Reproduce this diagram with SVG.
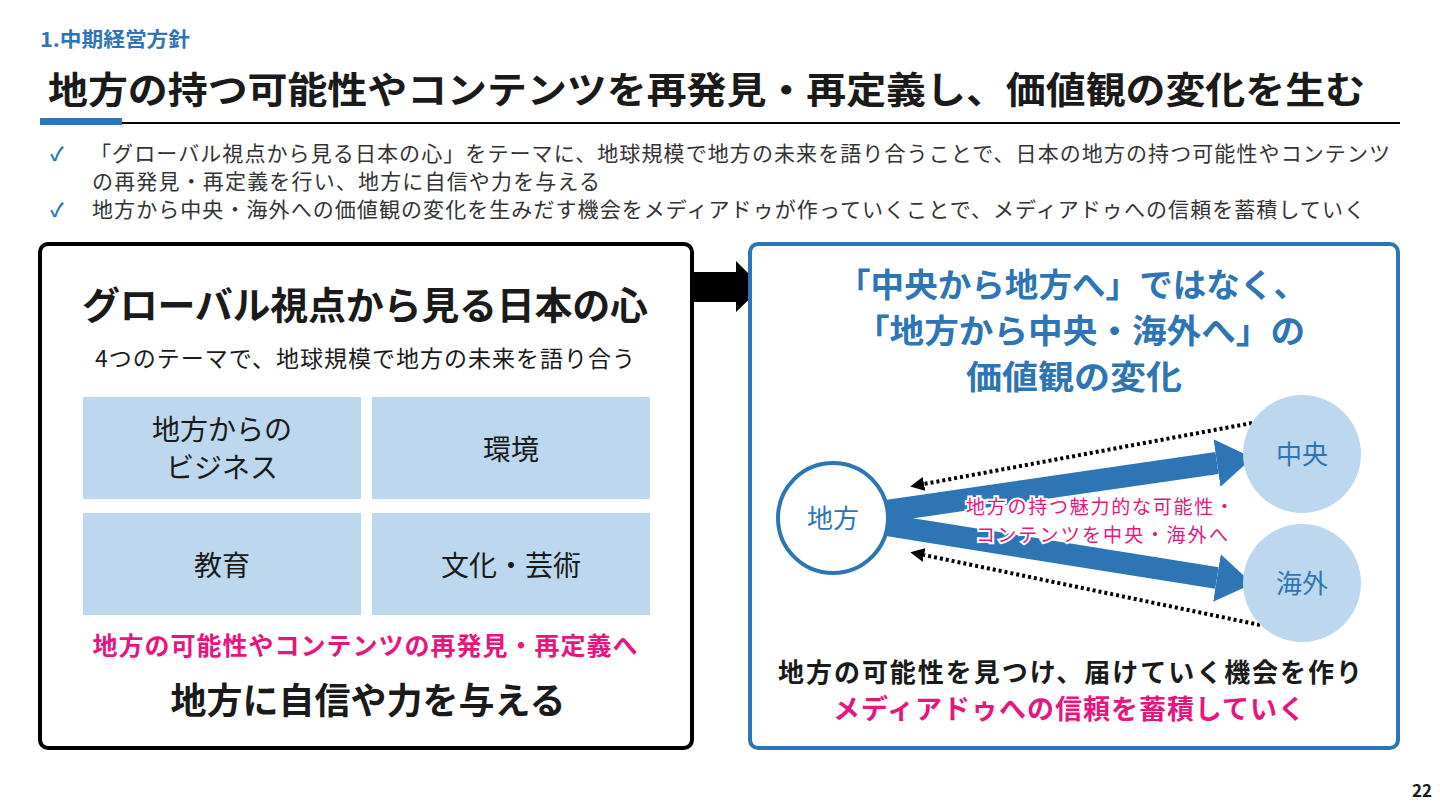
<svg xmlns="http://www.w3.org/2000/svg" width="1440" height="810" viewBox="0 0 1440 810">
<style>
text{font-family:"Noto Sans CJK JP","Noto Sans",sans-serif;}
.b{font-weight:700;}
.blue{fill:#2E75B6;}
.dark{fill:#1a1a1a;}
.pink{fill:#E8157F;}
.gray{fill:#333333;}
.cell{fill:#BDD7EE;}
.mid{text-anchor:middle;}
</style>
<defs>
<marker id="bighead" markerUnits="userSpaceOnUse" markerWidth="36" markerHeight="48" viewBox="0 0 36 48" refX="0" refY="24" orient="auto">
<path d="M0,0 L36,24 L0,48 z" fill="#2E75B6"/>
</marker>
<marker id="dothead" markerUnits="userSpaceOnUse" markerWidth="14" markerHeight="14" viewBox="0 0 14 14" refX="0" refY="7" orient="auto">
<path d="M0,0 L14,7 L0,14 z" fill="#000"/>
</marker>
</defs>
<rect width="1440" height="810" fill="#fff"/>

<g id="header">
<text x="40" y="47" class="b blue" font-size="20" textLength="150" lengthAdjust="spacingAndGlyphs">1.中期経営方針</text>
<text x="48" y="104" class="b dark" font-size="37" textLength="1317" lengthAdjust="spacingAndGlyphs">地方の持つ可能性やコンテンツを再発見・再定義し、価値観の変化を生む</text>
<rect x="40" y="118" width="82" height="7" fill="#2E75B6"/>
<rect x="122" y="122" width="1278" height="2" fill="#000"/>
</g>

<g id="bullets">
<text x="50" y="161" class="blue b" font-size="19">✓</text>
<text x="90" y="161" class="gray" font-size="21" textLength="1300">「グローバル視点から見る日本の心」をテーマに、地球規模で地方の未来を語り合うことで、日本の地方の持つ可能性やコンテンツ</text>
<text x="92" y="189" class="gray" font-size="21" textLength="508">の再発見・再定義を行い、地方に自信や力を与える</text>
<text x="50" y="217" class="blue b" font-size="19">✓</text>
<text x="92" y="217" class="gray" font-size="21" textLength="1273">地方から中央・海外への価値観の変化を生みだす機会をメディアドゥが作っていくことで、メディアドゥへの信頼を蓄積していく</text>
</g>

<g id="left-box">
<rect x="40" y="244" width="652" height="504" rx="8" fill="#fff" stroke="#000" stroke-width="4"/>
<text x="365" y="319" class="b dark mid" font-size="38" textLength="566">グローバル視点から見る日本の心</text>
<text x="365" y="367" class="dark mid" font-size="23" textLength="540">4つのテーマで、地球規模で地方の未来を語り合う</text>
</g>
<g id="cell-business">
<rect x="83" y="397" width="278" height="102" class="cell"/>
<text x="222" y="440" class="dark mid" font-size="28">地方からの</text>
<text x="222" y="478" class="dark mid" font-size="28">ビジネス</text>
</g>
<g id="cell-env">
<rect x="372" y="397" width="278" height="102" class="cell"/>
<text x="511" y="460" class="dark mid" font-size="28">環境</text>
</g>
<g id="cell-edu">
<rect x="83" y="513" width="278" height="102" class="cell"/>
<text x="222" y="576" class="dark mid" font-size="28">教育</text>
</g>
<g id="cell-culture">
<rect x="372" y="513" width="278" height="102" class="cell"/>
<text x="511" y="576" class="dark mid" font-size="28">文化・芸術</text>
</g>
<g id="left-bottom">
<text x="365" y="655" class="b pink mid" font-size="25" textLength="545">地方の可能性やコンテンツの再発見・再定義へ</text>
<text x="368" y="714" class="b dark mid" font-size="36">地方に自信や力を与える</text>
</g>

<g id="big-arrow">
<polygon points="692,272 736,272 736,261 762,287 736,312 736,302 692,302" fill="#000"/>
</g>

<g id="right-box">
<rect x="750" y="244" width="648" height="504" rx="8" fill="#fff" stroke="#2E75B6" stroke-width="4"/>
<text x="1072" y="297" class="b blue mid" font-size="33" textLength="470" lengthAdjust="spacingAndGlyphs">「中央から地方へ」ではなく、</text>
<text x="1080" y="343" class="b blue mid" font-size="33" textLength="450" lengthAdjust="spacingAndGlyphs">「地方から中央・海外へ」の</text>
<text x="1074" y="389" class="b blue mid" font-size="33" textLength="216" lengthAdjust="spacingAndGlyphs">価値観の変化</text>
</g>

<g id="connectors">
<line x1="880" y1="512" x2="1217" y2="463" stroke="#2E75B6" stroke-width="22" marker-end="url(#bighead)"/>
<line x1="880" y1="524" x2="1217" y2="578" stroke="#2E75B6" stroke-width="22" marker-end="url(#bighead)"/>
<line x1="1252" y1="423" x2="924" y2="484" stroke="#000" stroke-width="4" stroke-dasharray="3,3" marker-end="url(#dothead)"/>
<line x1="1260" y1="625" x2="924" y2="555" stroke="#000" stroke-width="4" stroke-dasharray="3,3" marker-end="url(#dothead)"/>
</g>

<g id="node-chiho">
<circle cx="833" cy="518" r="55" fill="#fff" stroke="#2E75B6" stroke-width="4"/>
<text x="833" y="528" class="blue mid" font-size="26">地方</text>
</g>
<g id="node-chuo">
<circle cx="1302" cy="454" r="59" class="cell"/>
<text x="1302" y="464" class="blue mid" font-size="26">中央</text>
</g>
<g id="node-kaigai">
<circle cx="1302" cy="583" r="59" class="cell"/>
<text x="1302" y="593" class="blue mid" font-size="26">海外</text>
</g>

<g id="arrow-label">
<text x="1100" y="514" class="pink mid" font-size="19" textLength="268" stroke="#fff" stroke-width="4" paint-order="stroke">地方の持つ魅力的な可能性・</text>
<text x="1102" y="542" class="pink mid" font-size="19" textLength="252" stroke="#fff" stroke-width="4" paint-order="stroke">コンテンツを中央・海外へ</text>
</g>

<g id="right-bottom">
<text x="1070" y="682" class="b dark mid" font-size="26" textLength="584">地方の可能性を見つけ、届けていく機会を作り</text>
<text x="1069" y="719" class="b pink mid" font-size="27" textLength="472">メディアドゥへの信頼を蓄積していく</text>
</g>

<text x="1432" y="797" class="b dark" font-size="17" text-anchor="end">22</text>
</svg>
